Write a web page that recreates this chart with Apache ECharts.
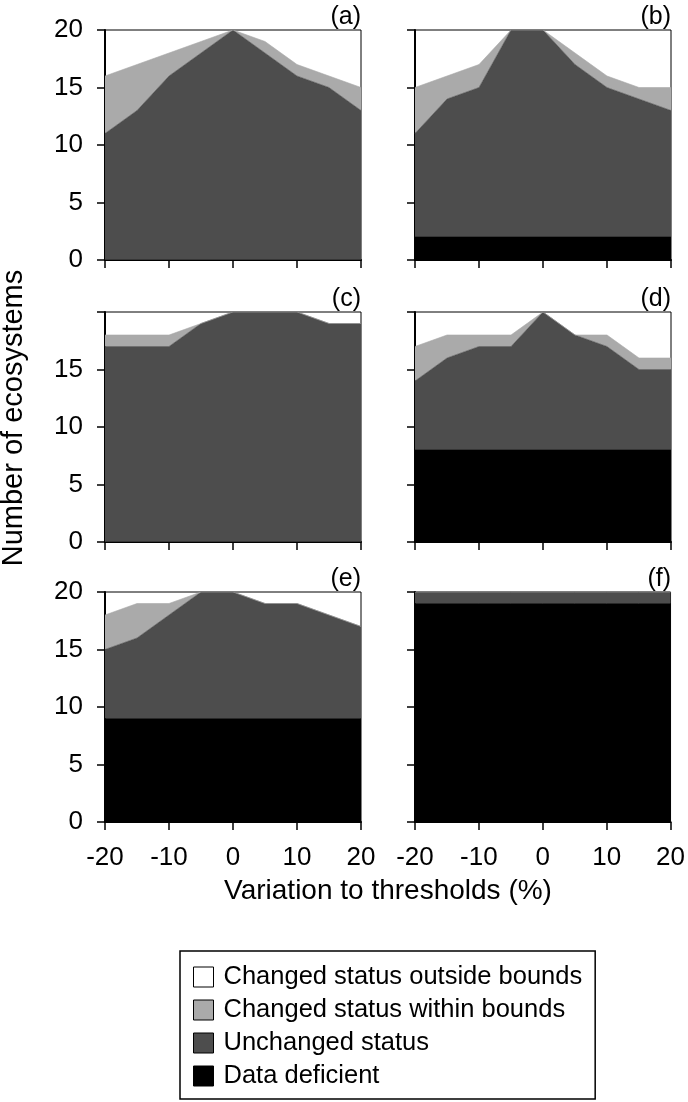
<!DOCTYPE html>
<html>
<head>
<meta charset="utf-8">
<title>Number of ecosystems vs variation to thresholds</title>
<script src="https://cdn.jsdelivr.net/npm/echarts@6/dist/echarts.min.js"></script>
<style>
  html, body { margin: 0; padding: 0; background: #fff; }
  #chart { width: 688px; height: 1102px; }
</style>
</head>
<body>
<div id="chart"></div>
<script>
// variation to thresholds (%)
const xValues = ["-20", "-15", "-10", "-5", "0", "5", "10", "15", "20"];
const panelNames = ["(a)", "(b)", "(c)", "(d)", "(e)", "(f)"];

// number of ecosystems in each class, per panel
const deficientA = [0, 0, 0, 0, 0, 0, 0, 0, 0];
const unchangedA = [11, 13, 16, 18, 20, 18, 16, 15, 13];
const withinA = [5, 4, 2, 1, 0, 1, 1, 1, 2];

const deficientB = [2, 2, 2, 2, 2, 2, 2, 2, 2];
const unchangedB = [9, 12, 13, 18, 18, 15, 13, 12, 11];
const withinB = [4, 2, 2, 0, 0, 1, 1, 1, 2];

const deficientC = [0, 0, 0, 0, 0, 0, 0, 0, 0];
const unchangedC = [17, 17, 17, 19, 20, 20, 20, 19, 19];
const withinC = [1, 1, 1, 0, 0, 0, 0, 0, 0];

const deficientD = [8, 8, 8, 8, 8, 8, 8, 8, 8];
const unchangedD = [6, 8, 9, 9, 12, 10, 9, 7, 7];
const withinD = [3, 2, 1, 1, 0, 0, 1, 1, 1];

const deficientE = [9, 9, 9, 9, 9, 9, 9, 9, 9];
const unchangedE = [6, 7, 9, 11, 11, 10, 10, 9, 8];
const withinE = [3, 3, 1, 0, 0, 0, 0, 0, 0];

const deficientF = [19, 19, 19, 19, 19, 19, 19, 19, 19];
const unchangedF = [1, 1, 1, 1, 1, 1, 1, 1, 1];
const withinF = [0, 0, 0, 0, 0, 0, 0, 0, 0];

const yTicks = [0, 5, 10, 15, 20];

const panels = [
  [deficientA, unchangedA, withinA],
  [deficientB, unchangedB, withinB],
  [deficientC, unchangedC, withinC],
  [deficientD, unchangedD, withinD],
  [deficientE, unchangedE, withinE],
  [deficientF, unchangedF, withinF],
];

const names = [
  "Changed status outside bounds",
  "Changed status within bounds",
  "Unchanged status",
  "Data deficient",
];
const colors = {
  "Changed status outside bounds": "#ffffff",
  "Changed status within bounds": "#aaaaaa",
  "Unchanged status": "#4d4d4d",
  "Data deficient": "#000000",
};

const font = "'Liberation Sans', Arial, sans-serif";
const colLeft = [105, 415];
const rowTop = [30, 312, 592];
const panelW = 256;
const panelH = 230;

var myChart = echarts.init(document.getElementById("chart"));

let grids = [], xAxes = [], yAxes = [], series = [], graphics = [];

panels.forEach(function (p, i) {
  const col = i % 2;
  const row = Math.floor(i / 2);
  const left = colLeft[col];
  const top = rowTop[row];

  grids.push({
    left: left,
    top: top,
    width: panelW,
    height: panelH,
    show: true,
    borderColor: "#000",
    borderWidth: 1,
    backgroundColor: "#fff",
  });

  xAxes.push({
    gridIndex: i,
    type: "category",
    boundaryGap: false,
    data: xValues,
    axisLine: { show: true, onZero: false, lineStyle: { color: "#000", width: 2 } },
    axisTick: { show: true, interval: 1, length: 8, lineStyle: { color: "#000", width: 1.5 } },
    axisLabel: {
      show: row === 2,
      interval: 1,
      color: "#000",
      fontSize: 26,
      fontFamily: font,
      margin: 23,
    },
    splitLine: { show: false },
  });

  yAxes.push({
    gridIndex: i,
    type: "value",
    min: 0,
    max: 20,
    interval: 5,
    axisLine: { show: true, onZero: false, lineStyle: { color: "#000", width: 2 } },
    axisTick: { show: true, length: 8, lineStyle: { color: "#000", width: 1.5 } },
    axisLabel: {
      show: col === 0,
      color: "#000",
      fontSize: 26,
      fontFamily: font,
      margin: 22,
      formatter: function (v) {
        // middle row has no "20" label
        if (row === 1 && v === yTicks[yTicks.length - 1]) return "";
        return String(v);
      },
    },
    splitLine: { show: false },
  });

  const layers = [
    { name: "Data deficient", data: p[0] },
    { name: "Unchanged status", data: p[1] },
    { name: "Changed status within bounds", data: p[2] },
  ];
  layers.forEach(function (l) {
    series.push({
      name: l.name,
      type: "line",
      xAxisIndex: i,
      yAxisIndex: i,
      stack: "panel" + i,
      symbol: "none",
      silent: true,
      lineStyle: { width: 0.6, color: colors[l.name] },
      areaStyle: { color: colors[l.name], opacity: 1 },
      itemStyle: { color: colors[l.name] },
      data: l.data,
    });
  });

  graphics.push({
    type: "text",
    x: left + panelW,
    y: top - 13,
    style: {
      text: panelNames[i],
      font: "25px " + font,
      fill: "#000",
      textAlign: "right",
      textVerticalAlign: "middle",
    },
  });
});

// legend-only entry for the white class
series.push({
  name: "Changed status outside bounds",
  type: "line",
  xAxisIndex: 0,
  yAxisIndex: 0,
  data: [],
  itemStyle: { color: "#fff" },
});

graphics.push({
  type: "text",
  x: 14,
  y: 418,
  rotation: Math.PI / 2,
  style: {
    text: "Number of ecosystems",
    font: "29px " + font,
    fill: "#000",
    textAlign: "center",
    textVerticalAlign: "middle",
  },
});
graphics.push({
  type: "text",
  x: 388,
  y: 891,
  style: {
    text: "Variation to thresholds (%)",
    font: "28px " + font,
    fill: "#000",
    textAlign: "center",
    textVerticalAlign: "middle",
  },
});

var option = {
  backgroundColor: "#fff",
  animation: false,
  grid: grids,
  xAxis: xAxes,
  yAxis: yAxes,
  series: series,
  graphic: graphics,
  legend: {
    orient: "vertical",
    left: 180,
    top: 951,
    padding: [13, 13, 10, 13],
    itemGap: 7,
    itemWidth: 20,
    itemHeight: 20,
    icon: "rect",
    selectedMode: false,
    borderColor: "#000",
    borderWidth: 1.5,
    textStyle: {
      color: "#000",
      fontSize: 25.5,
      fontFamily: font,
      lineHeight: 26,
      padding: [0, 0, 0, 5],
    },
    data: names.map(function (n) {
      return {
        name: n,
        itemStyle: { color: colors[n], borderColor: "#000", borderWidth: 1 },
      };
    }),
  },
};

option && myChart.setOption(option);
</script>
</body>
</html>
